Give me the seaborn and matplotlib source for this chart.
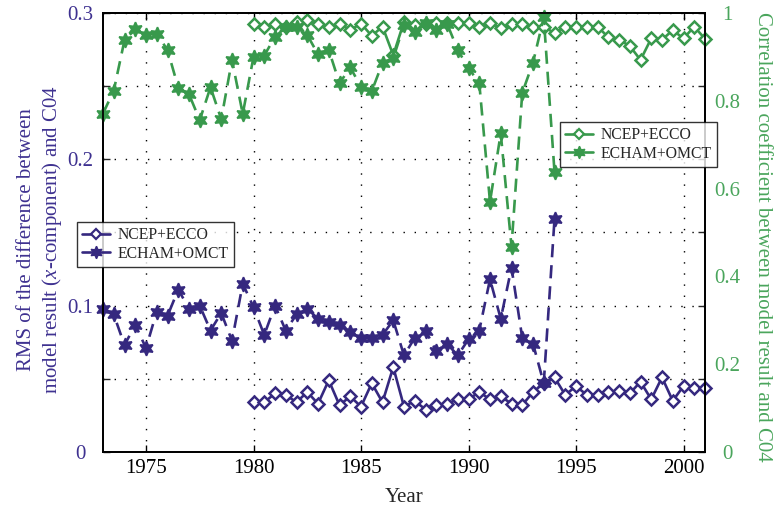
import numpy as np
import pandas as pd
import matplotlib
matplotlib.use("Agg")
import matplotlib.pyplot as plt
import seaborn as sns
from matplotlib.ticker import FixedLocator, FixedFormatter
from matplotlib.lines import Line2D

# ---------------- data ----------------
echam_years = [1973.0, 1973.5, 1974.0, 1974.5, 1975.0, 1975.5, 1976.0, 1976.5, 1977.0, 1977.5,
               1978.0, 1978.5, 1979.0, 1979.5, 1980.0, 1980.5, 1981.0, 1981.5, 1982.0, 1982.5,
               1983.0, 1983.5, 1984.0, 1984.5, 1985.0, 1985.5, 1986.0, 1986.5, 1987.0, 1987.5,
               1988.0, 1988.5, 1989.0, 1989.5, 1990.0, 1990.5, 1991.0, 1991.5, 1992.0, 1992.5,
               1993.0, 1993.5, 1994.0]
ncep_years = [1980.0, 1980.5, 1981.0, 1981.5, 1982.0, 1982.5, 1983.0, 1983.5, 1984.0, 1984.5,
              1985.0, 1985.5, 1986.0, 1986.5, 1987.0, 1987.5, 1988.0, 1988.5, 1989.0, 1989.5,
              1990.0, 1990.5, 1991.0, 1991.5, 1992.0, 1992.5, 1993.0, 1993.5, 1994.0, 1994.5,
              1995.0, 1995.5, 1996.0, 1996.5, 1997.0, 1997.5, 1998.0, 1998.5, 1999.0, 1999.5,
              2000.0, 2000.5, 2001.0]

echam_rms = [0.098, 0.094, 0.073, 0.087, 0.071, 0.096, 0.093, 0.111, 0.098, 0.100,
             0.083, 0.095, 0.076, 0.115, 0.099, 0.080, 0.100, 0.083, 0.094, 0.098,
             0.091, 0.089, 0.087, 0.082, 0.078, 0.078, 0.080, 0.090, 0.066, 0.078,
             0.083, 0.069, 0.074, 0.066, 0.077, 0.083, 0.118, 0.091, 0.126, 0.078,
             0.074, 0.047, 0.159]
ncep_rms = [0.034, 0.034, 0.040, 0.039, 0.034, 0.041, 0.033, 0.049, 0.032, 0.038,
            0.031, 0.047, 0.034, 0.058, 0.031, 0.035, 0.029, 0.032, 0.033, 0.036,
            0.036, 0.041, 0.036, 0.038, 0.033, 0.032, 0.041, 0.047, 0.051, 0.039,
            0.045, 0.039, 0.039, 0.041, 0.042, 0.040, 0.048, 0.036, 0.051, 0.035,
            0.045, 0.044, 0.044]
echam_corr = [0.771, 0.823, 0.938, 0.963, 0.951, 0.952, 0.916, 0.830, 0.815, 0.756,
              0.831, 0.758, 0.893, 0.770, 0.900, 0.903, 0.946, 0.967, 0.969, 0.950,
              0.906, 0.916, 0.840, 0.876, 0.832, 0.822, 0.886, 0.897, 0.973, 0.957,
              0.978, 0.961, 0.976, 0.916, 0.874, 0.841, 0.570, 0.726, 0.468, 0.818,
              0.887, 0.990, 0.638]
ncep_corr = [0.976, 0.969, 0.976, 0.969, 0.980, 0.984, 0.976, 0.969, 0.976, 0.961,
             0.976, 0.948, 0.969, 0.904, 0.980, 0.973, 0.976, 0.978, 0.978, 0.978,
             0.978, 0.969, 0.978, 0.965, 0.975, 0.975, 0.967, 0.969, 0.954, 0.969,
             0.969, 0.969, 0.969, 0.945, 0.939, 0.925, 0.893, 0.942, 0.939, 0.961,
             0.942, 0.969, 0.941]

series_labels = ["NCEP+ECCO", "ECHAM+OMCT"]
x_ticks = [1975, 1980, 1985, 1990, 1995, 2000]
left_ticks = [0, 0.05, 0.1, 0.15, 0.2, 0.25, 0.3]
left_ticklabels = ["0", "", "0.1", "", "0.2", "", "0.3"]
right_ticks = [0, 0.2, 0.4, 0.6, 0.8, 1.0]
right_ticklabels = ["0", "0.2", "0.4", "0.6", "0.8", "1"]

# ---------------- style ----------------
sns.set_theme(style="white")
plt.rcParams["font.family"] = ["Liberation Serif", "DejaVu Serif"]
plt.rcParams["mathtext.fontset"] = "custom"
plt.rcParams["mathtext.it"] = "Liberation Serif:italic"
plt.rcParams["mathtext.rm"] = "Liberation Serif"

PURPLE = "#35287f"
GREEN = "#38994c"
LABEL_GREEN = "#4aa55c"
LABEL_PURPLE = "#3e3190"
FS = 15

fig = plt.figure(figsize=(7.8, 5.07), dpi=100)
ax = fig.add_axes([103 / 780, 1 - 452 / 507, (705 - 103) / 780, (452 - 13) / 507])
ax2 = ax.twinx()

hexagram = (6, 1, 0)
lw = 1.9

df_ncep = pd.DataFrame({"year": ncep_years, "rms": ncep_rms, "corr": ncep_corr})
df_echam = pd.DataFrame({"year": echam_years, "rms": echam_rms, "corr": echam_corr})

common = dict(errorbar=None, estimator=None, clip_on=False)

sns.lineplot(data=df_ncep, x="year", y="rms", ax=ax, color=PURPLE, lw=lw,
             marker="D", ms=6.5, mfc="white", mec=PURPLE, mew=1.8, **common)
sns.lineplot(data=df_echam, x="year", y="rms", ax=ax, color=PURPLE, lw=lw,
             linestyle=(0, (5, 3)), marker=hexagram, ms=10.5, mfc=PURPLE, mec=PURPLE,
             mew=1.2, **common)
sns.lineplot(data=df_ncep, x="year", y="corr", ax=ax2, color=GREEN, lw=lw,
             marker="D", ms=6.5, mfc="white", mec=GREEN, mew=1.8, **common)
sns.lineplot(data=df_echam, x="year", y="corr", ax=ax2, color=GREEN, lw=lw,
             linestyle=(0, (5, 3)), marker=hexagram, ms=10.5, mfc=GREEN, mec=GREEN,
             mew=1.2, **common)

for a in (ax, ax2):
    a.set_xlim(1973, 2001)
    for s in a.spines.values():
        s.set_color("black")
        s.set_linewidth(1.3)
        s.set_visible(True)

ax.set_ylim(0, 0.3)
ax2.set_ylim(0, 1)

ax.xaxis.set_major_locator(FixedLocator(x_ticks))
ax.set_xticklabels([str(t) for t in x_ticks])
ax.yaxis.set_major_locator(FixedLocator(left_ticks))
ax.yaxis.set_major_formatter(FixedFormatter(left_ticklabels))
ax2.yaxis.set_major_locator(FixedLocator(right_ticks))
ax2.yaxis.set_major_formatter(FixedFormatter(right_ticklabels))

ax.tick_params(axis="x", direction="in", top=True, bottom=True, length=5, width=1,
               labelsize=FS, colors="black", pad=5)
ax.tick_params(axis="y", direction="in", left=True, right=True, length=5, width=1,
               labelsize=FS, labelcolor=LABEL_PURPLE, pad=16.5)
ax2.tick_params(axis="y", direction="in", right=True, length=0,
                labelsize=FS, labelcolor=LABEL_GREEN, pad=16)
for t in ax.get_yticklabels():
    t.set_horizontalalignment("center")
for t in ax2.get_yticklabels():
    t.set_horizontalalignment("center")

ax.grid(True, linestyle=(0, (1, 7)), color="black", linewidth=1.0)
ax2.grid(False)

ax.set_xlabel("Year", fontsize=FS)
ax.xaxis.set_label_coords(0.5, -0.083)
ax.set_ylabel("RMS of the difference between\nmodel result ($x$-component) and C04",
              fontsize=FS, color=LABEL_PURPLE, linespacing=1.25)
ax.yaxis.set_label_coords(-0.064, 0.483)
ax2.set_ylabel("Correlation coefficient between model result and C04", fontsize=FS,
               color=LABEL_GREEN, rotation=270)
ax2.yaxis.set_label_coords(1.111, 0.49)

# legends
def handles_for(color):
    return [Line2D([], [], color=color, lw=lw, marker="D", ms=5.5, mfc="white",
                   mec=color, mew=1.6),
            Line2D([], [], color=color, lw=lw, marker=hexagram, ms=9, mfc=color,
                   mec=color, mew=1)]

leg_kw = dict(fontsize=11.3, frameon=True, fancybox=False, edgecolor="black",
              handlelength=1.75, handletextpad=0.5, borderpad=0.35, labelspacing=0.15,
              borderaxespad=0)
leg1 = fig.legend(handles_for(PURPLE), series_labels, loc="upper left",
                  bbox_to_anchor=(77 / 780, 1 - 222 / 507), **leg_kw)
leg1.get_frame().set_linewidth(1.0)
leg2 = fig.legend(handles_for(GREEN), series_labels, loc="upper right",
                  bbox_to_anchor=(717 / 780, 1 - 122 / 507), **leg_kw)
leg2.get_frame().set_linewidth(1.0)

fig.savefig("out.png", dpi=100)
